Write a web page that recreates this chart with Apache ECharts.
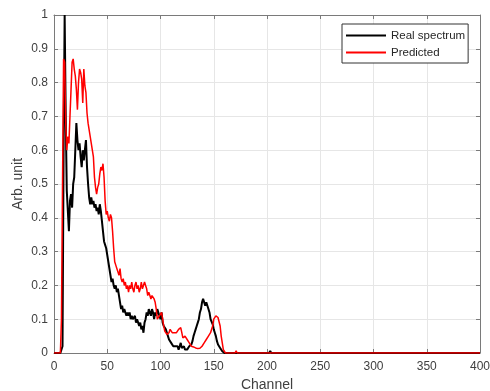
<!DOCTYPE html>
<html>
<head>
<meta charset="utf-8">
<script src="https://cdn.jsdelivr.net/npm/echarts@6/dist/echarts.min.js"></script>
<style>
  html, body { margin: 0; padding: 0; background: #fff; }
  #chart { width: 490px; height: 391px; }
</style>
</head>
<body>
<div id="chart"></div>
<script>
// values indexed by channel (0, 1, 2, ...)
const realValues = [
  0, 0, 0, 0, 0, 0, 0, 0, 0.02, 0.6,
  1.0, 0.7, 0.48, 0.42, 0.36, 0.45, 0.47, 0.43, 0.5, 0.52,
  0.6, 0.68, 0.63, 0.6, 0.62, 0.58, 0.55, 0.6, 0.57, 0.6,
  0.63, 0.55, 0.5, 0.46, 0.44, 0.46, 0.44, 0.45, 0.43, 0.44,
  0.42, 0.43, 0.41, 0.44, 0.42, 0.39, 0.36, 0.33, 0.32, 0.31,
  0.29, 0.27, 0.25, 0.23, 0.21, 0.22, 0.2, 0.19, 0.2, 0.18,
  0.19, 0.17, 0.15, 0.13, 0.14, 0.12, 0.13, 0.12, 0.11, 0.12,
  0.11, 0.12, 0.1, 0.11, 0.1, 0.1, 0.11, 0.09, 0.1, 0.09,
  0.08, 0.09, 0.07, 0.08, 0.06, 0.09, 0.1, 0.12, 0.11, 0.13,
  0.12, 0.11, 0.13, 0.12, 0.1, 0.12, 0.11, 0.13, 0.12, 0.11,
  0.1, 0.12, 0.09, 0.08, 0.08, 0.07, 0.06, 0.05, 0.04, 0.04,
  0.03, 0.03, 0.02, 0.025, 0.02, 0.015, 0.02, 0.01, 0.02, 0.03,
  0.015, 0.01, 0.02, 0.01, 0.008, 0.01, 0.015, 0.02, 0.02, 0.025,
  0.035, 0.05, 0.06, 0.07, 0.08, 0.09, 0.1, 0.12, 0.13, 0.15,
  0.16, 0.155, 0.14, 0.15, 0.145, 0.13, 0.12, 0.1, 0.095, 0.085,
  0.07, 0.06, 0.05, 0.035, 0.025, 0.02, 0.015, 0.01, 0.005, 0,
  0
];
const realTailChannels = [202, 203, 204, 400];
const realTailValues = [0, 0.006, 0, 0];

const predValues = [
  0, 0, 0, 0, 0, 0, 0, 0.1, 0.5, 0.87,
  0.86, 0.68, 0.6, 0.64, 0.62, 0.7, 0.78, 0.86, 0.87, 0.84,
  0.82, 0.78, 0.72, 0.8, 0.84, 0.83, 0.81, 0.74, 0.84, 0.79,
  0.77, 0.71, 0.68, 0.66, 0.64, 0.62, 0.6, 0.58, 0.52, 0.49,
  0.47, 0.49, 0.5, 0.53, 0.55, 0.54, 0.56, 0.52, 0.45, 0.41,
  0.42, 0.4, 0.39, 0.41, 0.4, 0.36, 0.31, 0.27, 0.26, 0.25,
  0.24, 0.23, 0.25, 0.22, 0.21, 0.22, 0.2, 0.21, 0.19, 0.2,
  0.18, 0.2, 0.19, 0.21, 0.19, 0.18, 0.2, 0.21, 0.19, 0.2,
  0.18, 0.19, 0.21, 0.19, 0.2, 0.21, 0.2, 0.19, 0.17, 0.18,
  0.17, 0.16, 0.17, 0.17, 0.16, 0.15, 0.13, 0.1, 0.1, 0.11,
  0.11, 0.12, 0.1, 0.08, 0.065, 0.06, 0.055, 0.05, 0.06, 0.07,
  0.065, 0.06, 0.065, 0.06, 0.055, 0.06, 0.06, 0.07, 0.07, 0.075,
  0.06, 0.045, 0.04, 0.05, 0.045, 0.04, 0.035, 0.03, 0.025, 0.02,
  0.02, 0.018, 0.015, 0.015, 0.012, 0.013, 0.015, 0.014, 0.016, 0.02,
  0.025, 0.03, 0.035, 0.04, 0.045, 0.05, 0.05, 0.06, 0.07, 0.08,
  0.1, 0.105, 0.11, 0.11, 0.105, 0.1, 0.08, 0.05, 0.03, 0.01,
  0.005, 0
];
const predTailChannels = [170, 171, 172, 400];
const predTailValues = [0, 0.006, 0, 0];

const xTicks = [0, 50, 100, 150, 200, 250, 300, 350, 400];
const yTicks = [0, 0.1, 0.2, 0.3, 0.4, 0.5, 0.6, 0.7, 0.8, 0.9, 1];

const toPairs = (vals, tailCh, tailVals) =>
  vals.map((v, i) => [i, v]).concat(tailCh.map((c, i) => [c, tailVals[i]]))

const chart = echarts.init(document.getElementById('chart'))

const axisColor = '#7a7a7a'
const textColor = '#404040'
const font = 'Liberation Sans, Arial, sans-serif'

const baseX = {
  type: 'value',
  min: xTicks[0],
  max: xTicks[xTicks.length - 1],
  interval: 50,
  axisLine: { show: true, onZero: false, lineStyle: { color: axisColor, width: 1 } },
  axisTick: { show: true, inside: true, length: 4, lineStyle: { color: axisColor } },
  splitLine: { show: false },
  axisLabel: { show: false }
}
const baseY = {
  type: 'value',
  min: yTicks[0],
  max: yTicks[yTicks.length - 1],
  interval: 0.1,
  axisLine: { show: true, onZero: false, lineStyle: { color: axisColor, width: 1 } },
  axisTick: { show: true, inside: true, length: 4, lineStyle: { color: axisColor } },
  splitLine: { show: false },
  axisLabel: { show: false }
}

const option = {
  animation: false,
  backgroundColor: '#fff',
  grid: { left: 54, right: 10, top: 15, bottom: 38, containLabel: false, outerBoundsMode: 'none' },
  legend: {
    left: 342,
    top: 24,
    orient: 'vertical',
    itemWidth: 40,
    itemHeight: 2,
    itemGap: 4,
    padding: [5, 3, 4, 4],
    borderColor: '#333',
    borderWidth: 1,
    backgroundColor: '#fff',
    textStyle: { fontFamily: font, fontSize: 11.5, lineHeight: 13, color: '#262626' },
    data: [
      { name: 'Real spectrum', icon: 'rect' },
      { name: 'Predicted', icon: 'rect' }
    ]
  },
  xAxis: [
    {
      ...baseX,
      position: 'bottom',
      name: 'Channel',
      nameLocation: 'middle',
      nameGap: 25,
      nameMoveOverlap: false,
      nameTextStyle: { fontFamily: font, fontSize: 14, color: textColor },
      splitLine: { show: true, lineStyle: { color: '#e6e6e6', width: 1 } },
      axisLabel: { show: true, margin: 8, fontFamily: font, fontSize: 12, color: textColor }
    },
    { ...baseX, position: 'top' }
  ],
  yAxis: [
    {
      ...baseY,
      position: 'left',
      name: 'Arb. unit',
      nameLocation: 'middle',
      nameGap: 29,
      nameMoveOverlap: false,
      nameTextStyle: { fontFamily: font, fontSize: 14, color: textColor },
      splitLine: { show: true, lineStyle: { color: '#e6e6e6', width: 1 } },
      axisLabel: { show: true, margin: 6, fontFamily: font, fontSize: 12, color: textColor }
    },
    { ...baseY, position: 'right' }
  ],
  series: [
    {
      name: 'Real spectrum',
      type: 'line',
      xAxisIndex: 0,
      yAxisIndex: 0,
      showSymbol: false,
      symbol: 'none',
      color: '#000',
      lineStyle: { color: '#000', width: 2 },
      z: 3,
      data: toPairs(realValues, realTailChannels, realTailValues)
    },
    {
      name: 'Predicted',
      type: 'line',
      xAxisIndex: 0,
      yAxisIndex: 0,
      showSymbol: false,
      symbol: 'none',
      color: '#ff0000',
      lineStyle: { color: '#ff0000', width: 1.5 },
      z: 4,
      data: toPairs(predValues, predTailChannels, predTailValues)
    }
  ]
}

chart.setOption(option)
</script>
</body>
</html>
